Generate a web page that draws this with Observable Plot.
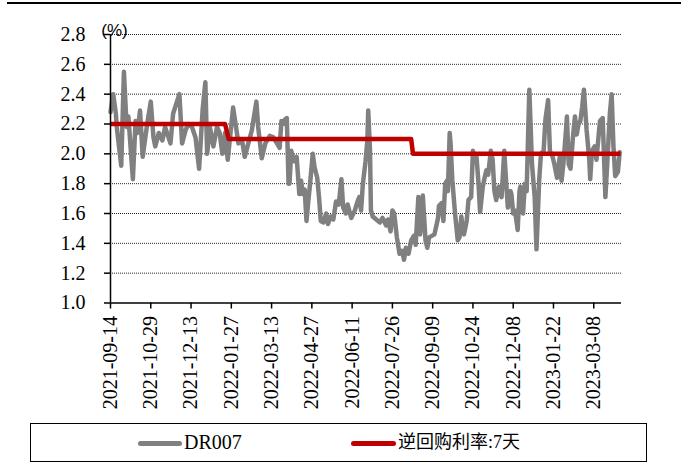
<!DOCTYPE html>
<html><head><meta charset="utf-8">
<script src="https://cdn.jsdelivr.net/npm/d3@7"></script>
<script src="https://cdn.jsdelivr.net/npm/@observablehq/plot@0.6"></script>
<style>
body{margin:0;background:#fff;width:687px;height:467px;position:relative;overflow:hidden;font-family:"Liberation Serif","Times New Roman",serif;}
#topline{position:absolute;left:7px;top:2px;width:674px;height:2px;background:#000;}
#chart{position:absolute;left:0;top:0;}
#legend{position:absolute;left:30px;top:423px;width:617px;height:39px;border:1px solid #000;box-sizing:border-box;}
.sw{position:absolute;top:17px;height:5px;border-radius:3px;}
.lt{position:absolute;top:6px;font-size:20px;line-height:24px;color:#000;white-space:nowrap;}
</style></head>
<body>
<div id="topline"></div>
<div id="chart"></div>
<div id="legend">
  <div class="sw" style="left:107px;width:44px;background:#808080"></div>
  <div class="lt" style="left:153px">DR007</div>
  <div class="sw" style="left:320px;width:45px;background:#C00000"></div>
  <div class="lt" style="left:367px;font-family:'Liberation Serif','Noto Sans CJK SC';font-size:18px">逆回购利率:7天</div>
</div>
<script>
const drDates = [
"2021-09-14","2021-09-17","2021-09-20","2021-09-21","2021-09-26","2021-09-29","2021-10-02","2021-10-04","2021-10-09","2021-10-12",
"2021-10-14","2021-10-17","2021-10-20","2021-10-25","2021-10-29","2021-11-01","2021-11-03","2021-11-07","2021-11-11","2021-11-14",
"2021-11-20","2021-11-23","2021-11-30","2021-12-03","2021-12-07","2021-12-10","2021-12-14","2021-12-18","2021-12-22","2021-12-26",
"2021-12-29","2021-12-31","2022-01-03","2022-01-07","2022-01-11","2022-01-14","2022-01-17","2022-01-20","2022-01-23","2022-01-29",
"2022-02-04","2022-02-08","2022-02-11","2022-02-15","2022-02-19","2022-02-24","2022-02-26","2022-03-02","2022-03-06","2022-03-11",
"2022-03-15","2022-03-19","2022-03-22","2022-03-24","2022-03-26","2022-03-28","2022-03-30","2022-04-01","2022-04-02","2022-04-04",
"2022-04-07","2022-04-10","2022-04-13","2022-04-15","2022-04-17","2022-04-19","2022-04-21","2022-04-23","2022-04-25","2022-04-28",
"2022-04-30","2022-05-03","2022-05-05","2022-05-07","2022-05-10","2022-05-13","2022-05-15","2022-05-18","2022-05-21","2022-05-24",
"2022-05-27","2022-05-30","2022-06-01","2022-06-04","2022-06-06","2022-06-10","2022-06-14","2022-06-17","2022-06-19","2022-06-21",
"2022-06-23","2022-06-26","2022-06-28","2022-06-29","2022-07-01","2022-07-02","2022-07-04","2022-07-08","2022-07-12","2022-07-15",
"2022-07-19","2022-07-21","2022-07-24","2022-07-26","2022-07-28","2022-07-31","2022-08-03","2022-08-06","2022-08-08","2022-08-10",
"2022-08-13","2022-08-16","2022-08-19","2022-08-21","2022-08-24","2022-08-26","2022-08-29","2022-09-01","2022-09-03","2022-09-05",
"2022-09-08","2022-09-11","2022-09-15","2022-09-16","2022-09-19","2022-09-21","2022-09-23","2022-09-25","2022-09-26","2022-09-28",
"2022-09-29","2022-10-01","2022-10-04","2022-10-07","2022-10-09","2022-10-11","2022-10-12","2022-10-14","2022-10-17","2022-10-19",
"2022-10-22","2022-10-24","2022-10-25","2022-10-28","2022-10-30","2022-11-01","2022-11-04","2022-11-06","2022-11-08","2022-11-10",
"2022-11-13","2022-11-15","2022-11-17","2022-11-19","2022-11-22","2022-11-25","2022-11-28","2022-11-30","2022-12-02","2022-12-05",
"2022-12-06","2022-12-08","2022-12-10","2022-12-13","2022-12-15","2022-12-16","2022-12-19","2022-12-21","2022-12-23","2022-12-26",
"2022-12-29","2023-01-01","2023-01-03","2023-01-06","2023-01-08","2023-01-11","2023-01-13","2023-01-16","2023-01-18","2023-01-21",
"2023-01-23","2023-01-26","2023-01-29","2023-01-31","2023-02-02","2023-02-05","2023-02-06","2023-02-08","2023-02-10","2023-02-13",
"2023-02-15","2023-02-17","2023-02-19","2023-02-21","2023-02-23","2023-02-25","2023-02-28","2023-03-03","2023-03-04","2023-03-06",
"2023-03-09","2023-03-11","2023-03-14","2023-03-15","2023-03-18","2023-03-21","2023-03-23","2023-03-26","2023-03-28","2023-03-30",
"2023-04-01","2023-04-04","2023-04-06"];
const drValues = [
2.28,2.40,2.27,2.18,1.92,2.55,2.18,2.25,1.83,2.22,
2.14,2.29,1.98,2.20,2.35,2.11,2.05,2.14,2.09,2.18,
2.07,2.27,2.40,2.07,2.16,2.20,2.18,2.11,1.90,2.30,
2.48,2.00,2.18,2.05,2.18,2.14,2.00,2.14,1.96,2.31,
2.07,2.09,1.98,2.07,2.16,2.35,2.18,1.97,2.07,2.12,
2.11,2.07,2.04,2.22,2.20,2.23,2.24,1.80,1.80,2.02,
1.95,1.98,1.73,1.82,1.73,1.76,1.55,1.68,1.80,2.00,
1.91,1.84,1.71,1.55,1.54,1.60,1.53,1.58,1.56,1.68,
1.66,1.83,1.64,1.60,1.66,1.57,1.62,1.68,1.71,1.62,
1.80,1.95,2.09,2.29,2.02,1.62,1.58,1.56,1.54,1.57,
1.52,1.56,1.48,1.62,1.60,1.44,1.33,1.35,1.29,1.37,
1.33,1.42,1.45,1.39,1.71,1.46,1.72,1.42,1.37,1.44,
1.45,1.46,1.57,1.65,1.67,1.55,1.80,1.82,1.75,2.14,
2.07,1.82,1.60,1.42,1.44,1.58,1.53,1.46,1.55,1.69,
1.71,2.02,1.99,1.98,1.82,1.61,1.78,1.84,1.89,1.86,
2.02,1.96,1.75,1.69,1.78,1.71,2.02,1.82,1.64,1.75,
1.73,1.60,1.62,1.49,1.75,1.78,1.60,1.80,1.75,2.43,
1.93,1.71,1.36,1.82,2.00,2.02,2.23,2.36,2.02,1.98,
1.93,1.84,1.98,1.82,1.93,2.16,2.25,1.93,1.90,2.13,
2.25,2.13,2.20,2.22,2.31,2.43,2.16,1.96,1.83,2.02,
2.05,1.96,2.16,2.22,2.24,1.71,1.93,2.27,2.40,2.05,
1.85,1.88,2.01];
const repoDates = ["2021-09-14","2022-01-20","2022-01-24","2022-08-16","2022-08-18","2023-04-07"];
const repoValues = [2.2,2.2,2.1,2.1,2.0,2.0];
const xTickLabels = ["2021-09-14","2021-10-29","2021-12-13","2022-01-27","2022-03-13","2022-04-27","2022-06-11",
"2022-07-26","2022-09-09","2022-10-24","2022-12-08","2023-01-22","2023-03-08"];
const yTicks = [1.0,1.2,1.4,1.6,1.8,2.0,2.2,2.4,2.6,2.8];
const xStart = "2021-09-14", xEnd = "2023-04-08";

const dr = drDates.map((d,i)=>({date:new Date(d), value:drValues[i]}));
const repo = repoDates.map((d,i)=>({date:new Date(d), value:repoValues[i]}));
const xTicks = xTickLabels.map(d=>new Date(d));
const serif = "'Liberation Serif', 'Times New Roman', serif";

const chart = Plot.plot({
  width: 687, height: 410,
  marginLeft: 110, marginRight: 66, marginTop: 34, marginBottom: 107.5,
  style: {fontFamily: serif, fontSize: "20px", color: "#000", background: "transparent", overflow: "visible"},
  x: {type: "utc", domain: [new Date(xStart), new Date(xEnd)]},
  y: {domain: [1, 2.8]},
  marks: [
    Plot.ruleY(yTicks.slice(1), {stroke: "#000", strokeWidth: 1, strokeDasharray: "1,1", strokeOpacity: 0.85}),
    Plot.line(dr, {x: "date", y: "value", stroke: "#808080", strokeWidth: 4.5}),
    Plot.line(repo, {x: "date", y: "value", stroke: "#C00000", strokeWidth: 4.5, strokeLinecap: "butt"}),
    Plot.axisX({ticks: xTicks, tickFormat: d3.utcFormat("%Y-%m-%d"), tickRotate: -90, tickSize: 6, tickPadding: 7, label: null, fontSize: 20, fontFamily: serif, strokeWidth: 1.5}),
    Plot.axisY({ticks: yTicks, tickFormat: d3.format(".1f"), tickSize: 6, tickPadding: 19, label: null, fontSize: 20, fontFamily: serif, strokeWidth: 1.5}),
    Plot.ruleX([new Date(xStart)], {stroke: "#000", strokeWidth: 1.5}),
    Plot.ruleY([1], {stroke: "#000", strokeWidth: 1.5}),
    Plot.text(["(%)"], {text: d => d, frameAnchor: "top-left", dx: 4, dy: 1, textAnchor: "middle", lineAnchor: "bottom", fontFamily: "Liberation Sans", fontSize: 17})
  ]
});
document.getElementById("chart").appendChild(chart);
</script>
</body></html>
